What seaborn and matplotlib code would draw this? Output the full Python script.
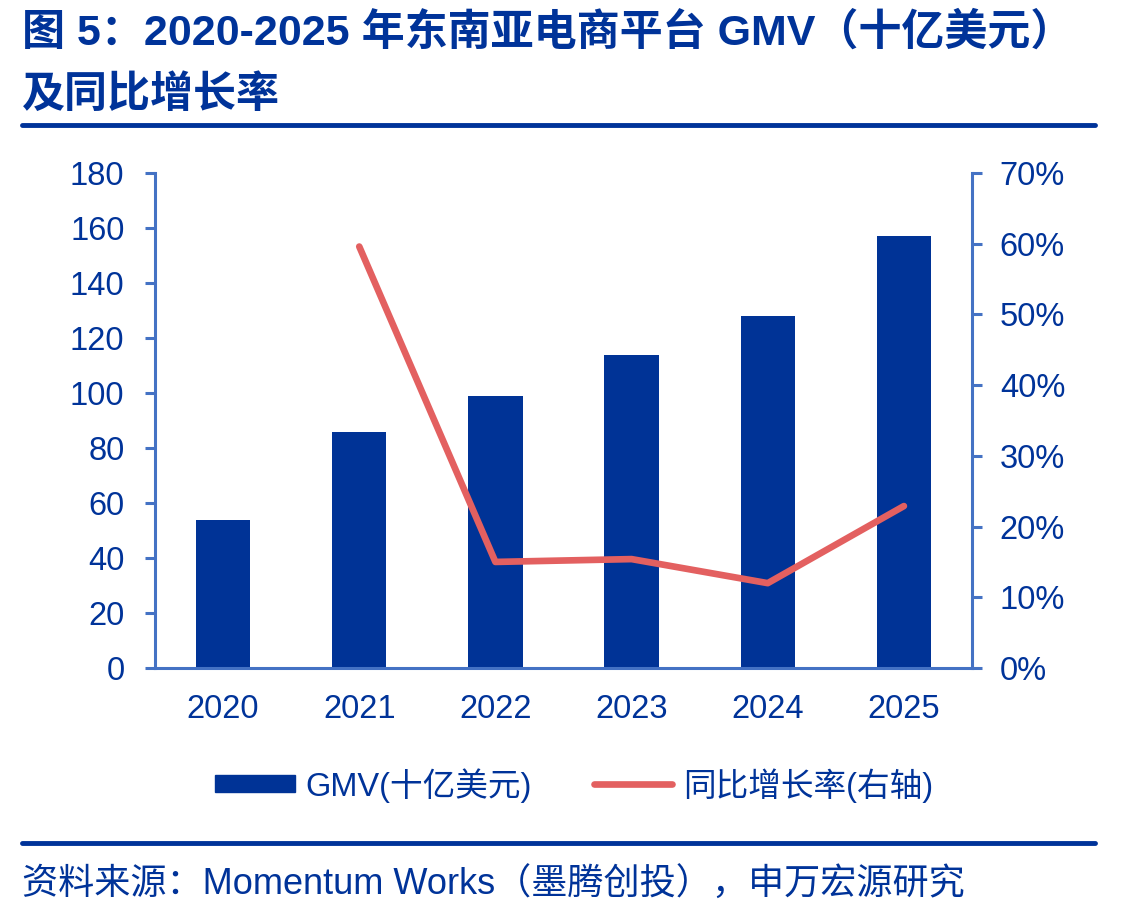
import numpy as np
import pandas as pd
import matplotlib
matplotlib.use("Agg")
import matplotlib.pyplot as plt
import seaborn as sns
from matplotlib.lines import Line2D
from matplotlib.patches import Rectangle

years = ["2020", "2021", "2022", "2023", "2024", "2025"]
gmv = [54, 86, 99, 114, 128, 157]
growth = [np.nan, 0.596, 0.150, 0.154, 0.120, 0.229]
left_ticks = [0, 20, 40, 60, 80, 100, 120, 140, 160, 180]
right_ticks = [0, 0.1, 0.2, 0.3, 0.4, 0.5, 0.6, 0.7]

title_l1 = "图 5：2020-2025 年东南亚电商平台 GMV（十亿美元）"
title_l2 = "及同比增长率"
source = "资料来源：Momentum Works（墨腾创投），申万宏源研究"
bar_label = "GMV(十亿美元)"
line_label = "同比增长率(右轴)"

sns.set_theme(style="white")
FAM = ["Liberation Sans", "Noto Sans CJK SC", "DejaVu Sans"]
plt.rcParams["font.family"] = FAM

BAR = "#003396"
LINE = "#E36060"
SPINE = "#4472C4"
TXT = "#003399"

fig = plt.figure(figsize=(11.4, 9.19), dpi=100)
ax = fig.add_axes([155/1140, 1-668/919, (972-155)/1140, (668-173)/919])

df = pd.DataFrame({"year": years, "gmv": gmv, "growth": growth})
df["pos"] = np.arange(len(years))

sns.barplot(data=df, x="year", y="gmv", ax=ax, color=BAR, width=0.4,
            saturation=1, linewidth=0)
ax.set_xlim(-0.5, len(years) - 0.5)
ax.set_ylim(0, 180)
ax.set_yticks(left_ticks)
ax.set_yticklabels([str(v) for v in left_ticks])
ax.set_xlabel("")
ax.set_ylabel("")

ax2 = ax.twinx()
sns.lineplot(data=df.dropna(), x="pos", y="growth", ax=ax2, color=LINE,
             linewidth=4.8, solid_capstyle="round")
ax2.set_ylim(0, 0.7)
ax2.set_yticks(right_ticks)
ax2.set_yticklabels([f"{int(round(v*100))}%" for v in right_ticks])
ax2.set_xlim(-0.5, len(years) - 0.5)
ax2.set_xlabel("")
ax2.set_ylabel("")

for a in (ax, ax2):
    for s in a.spines.values():
        s.set_visible(False)
ax.spines["left"].set_visible(True)
ax.spines["bottom"].set_visible(True)
ax2.spines["right"].set_visible(True)
for s in (ax.spines["left"], ax.spines["bottom"], ax2.spines["right"]):
    s.set_color(SPINE)
    s.set_linewidth(2.2)

ax.set_xticks(np.arange(len(years)))
ax.set_xticklabels(years)
ax.set_xticks(np.arange(-0.5, len(years)), minor=True)
ax.tick_params(axis="x", which="major", length=0, pad=19, labelsize=23.5, labelcolor=TXT)
ax.tick_params(axis="x", which="minor", length=7, width=2.2, color=SPINE, direction="out")
ax.tick_params(axis="y", which="major", length=7, width=2.2, color=SPINE, direction="out",
               labelsize=23.5, labelcolor=TXT, pad=15, left=True)
ax2.tick_params(axis="y", which="major", length=7, width=2.2, color=SPINE, direction="out",
                labelsize=23.5, labelcolor=TXT, pad=13, right=True)
ax.grid(False)
ax2.grid(False)

# Title
fig.text(22/1140, 1-33/919, title_l1, ha="left", va="center", fontsize=31, fontweight="bold",
         color=TXT)
fig.text(22/1140, 1-96/919, title_l2, ha="left", va="center", fontsize=31, fontweight="bold",
         color=TXT)
fig.add_artist(Line2D([22/1140, 1095/1140], [1-125/919, 1-125/919], color=TXT, linewidth=3.5))
fig.add_artist(Line2D([22/1140, 1095/1140], [1-843/919, 1-843/919], color=TXT, linewidth=3.5))

# Legend
fig.add_artist(Rectangle((215/1140, 1-792/919), 80/1140, 17/919, color=BAR,
                         transform=fig.transFigure))
fig.text(305/1140, 1-786/919, bar_label, ha="left", va="center", fontsize=23.5, color=TXT)
fig.add_artist(Line2D([594/1140, 672/1140], [1-784/919, 1-784/919], color=LINE,
                      linewidth=4.8, solid_capstyle="round"))
fig.text(683/1140, 1-786/919, line_label, ha="left", va="center", fontsize=23.5, color=TXT)

# Source
fig.text(22/1140, 1-885/919, source, ha="left", va="center", fontsize=26, color=TXT)

fig.savefig("out.png", dpi=100)
